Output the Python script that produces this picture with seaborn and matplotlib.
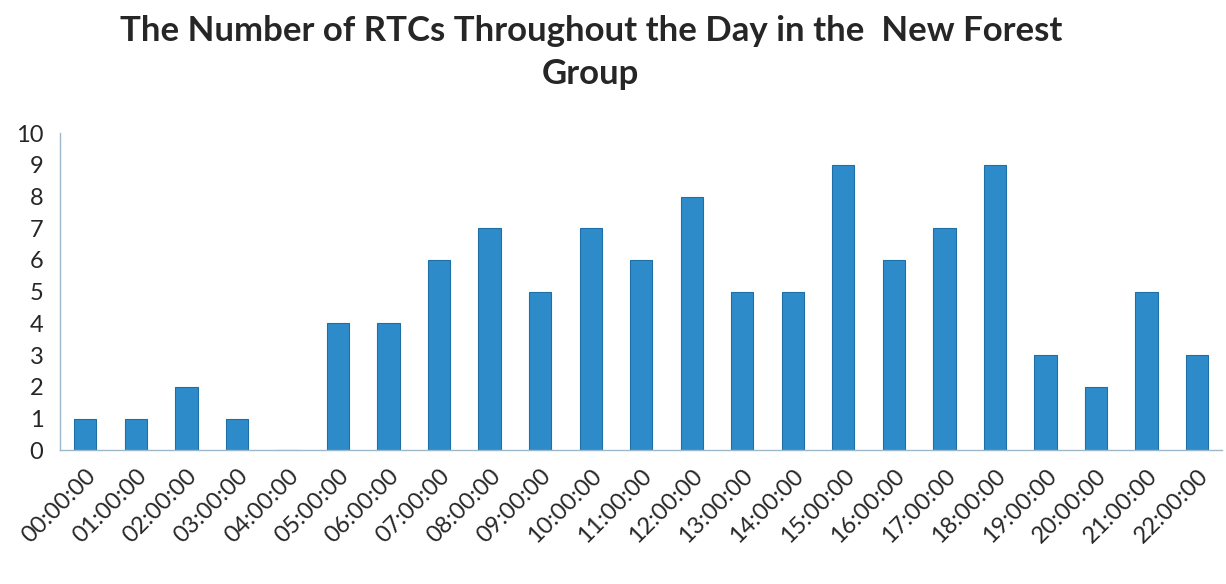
import matplotlib
matplotlib.use("Agg")
import matplotlib.pyplot as plt
import numpy as np
import pandas as pd
import seaborn as sns

# chart data
hours = [f"{h:02d}:00:00" for h in range(23)]
rtc_counts = [1, 1, 2, 1, 0, 4, 4, 6, 7, 5, 7, 6, 8, 5, 5, 9, 6, 7, 9, 3, 2, 5, 3]
y_ticks = list(range(0, 11))

df = pd.DataFrame({"hour": hours, "count": rtc_counts})

sns.set_style("white")
plt.rcParams["font.family"] = ["Lato", "DejaVu Sans"]

fig = plt.figure(figsize=(12.26, 5.84), dpi=100)
ax = fig.add_axes([0.049, 0.229, 0.948, 0.543])

sns.barplot(
    data=df,
    x="hour",
    y="count",
    color="#2E8BC9",
    width=0.44,
    edgecolor="#1E6FA6",
    linewidth=0.8,
    saturation=1,
    ax=ax,
)

ax.set_xlim(-0.5, len(hours) - 0.5)
ax.set_ylim(0, 10)
ax.set_yticks(y_ticks)
ax.tick_params(axis="y", labelsize=17, length=4, color="#9DB8C8", pad=8)
ax.set_xticks(range(len(hours)))
ax.set_xticklabels(hours, rotation=45, ha="right", rotation_mode="anchor", fontsize=17)
ax.tick_params(axis="x", length=0, pad=11)
# category boundary ticks like a spreadsheet chart
ax.set_xticks(np.arange(-0.5, len(hours), 1), minor=True)
ax.tick_params(axis="x", which="minor", length=6, color="#9DB8C8", direction="out")

for side in ["top", "right"]:
    ax.spines[side].set_visible(False)
for side in ["left", "bottom"]:
    ax.spines[side].set_color("#9DB8C8")
    ax.spines[side].set_linewidth(1)

ax.set_xlabel("")
ax.set_ylabel("")

fig.suptitle(
    "The Number of RTCs Throughout the Day in the  New Forest\nGroup",
    x=0.482,
    y=0.975,
    fontsize=25,
    fontweight="bold",
    linespacing=1.45,
)

fig.savefig("out.png", dpi=100)
